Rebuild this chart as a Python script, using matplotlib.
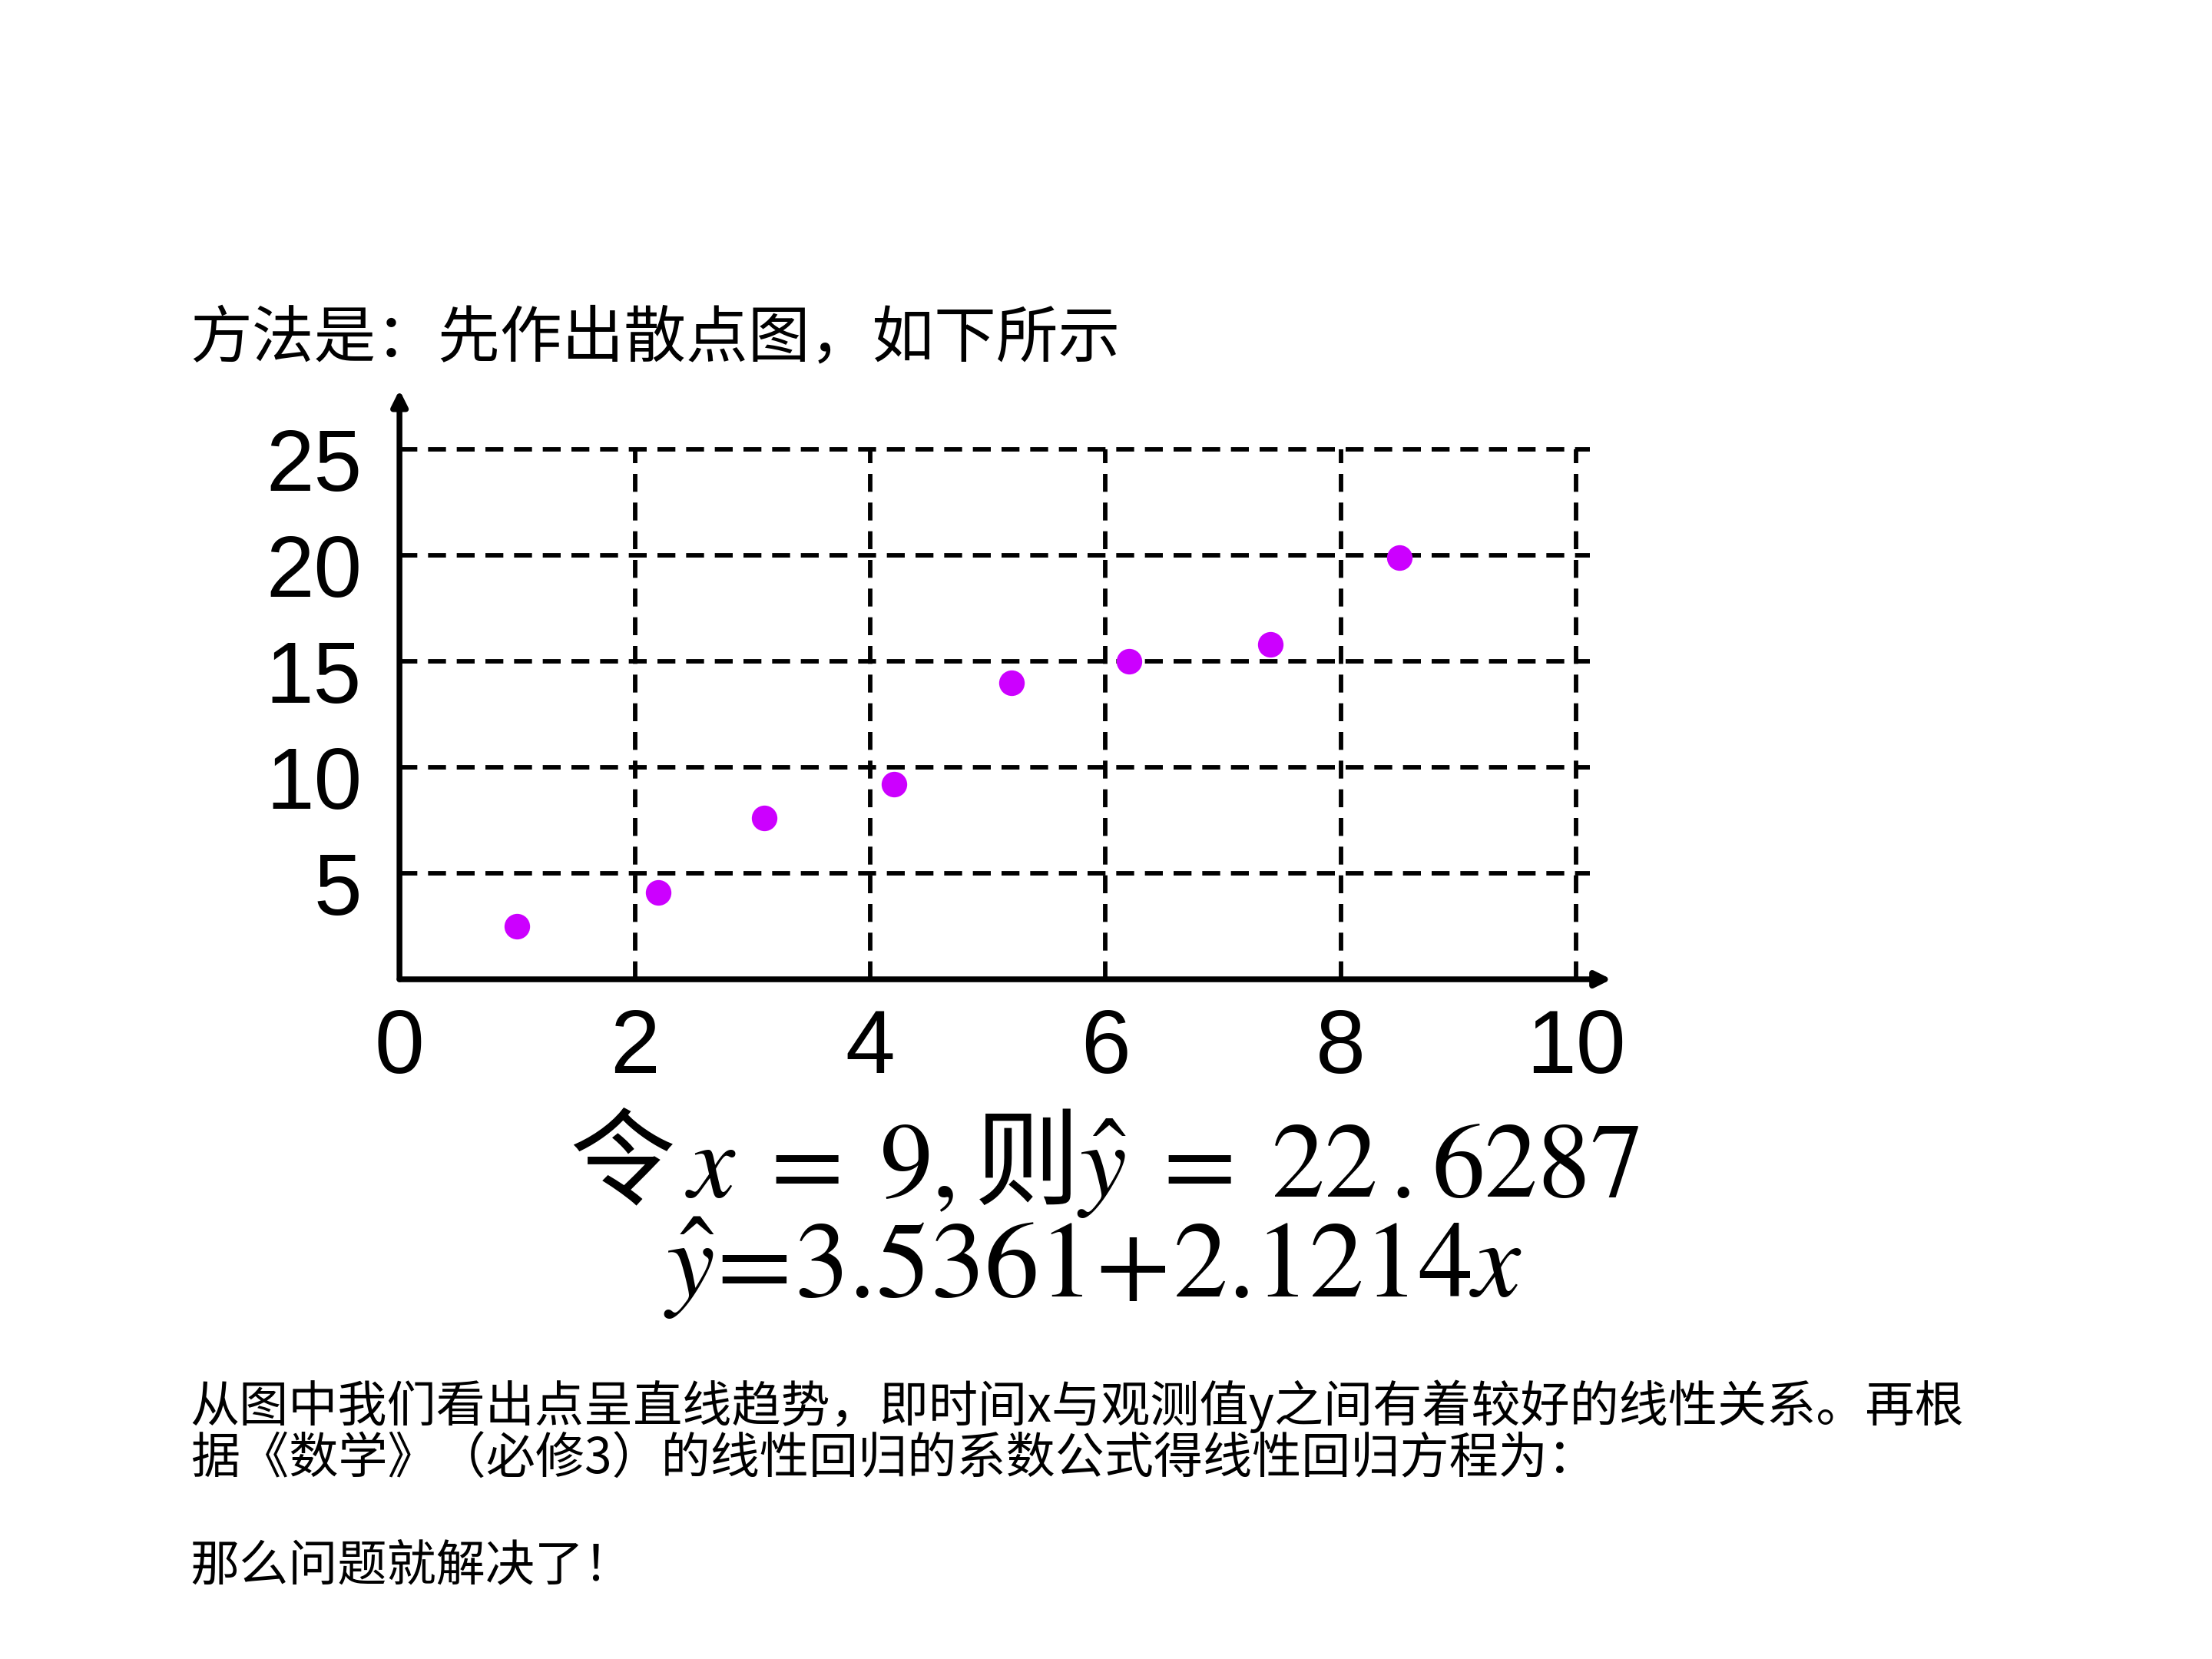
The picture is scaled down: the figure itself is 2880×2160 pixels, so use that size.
import matplotlib
matplotlib.use("Agg")
import matplotlib.pyplot as plt

plt.rcParams['font.family'] = ['Noto Sans CJK SC', 'DejaVu Sans']
plt.rcParams['mathtext.fontset'] = 'stix'

# 数据
x_vals = [1.0, 2.2, 3.1, 4.2, 5.2, 6.2, 7.4, 8.5]
y_vals = [2.5, 4.1, 7.6, 9.2, 14.0, 15.0, 15.8, 19.9]
x_ticks = [0, 2, 4, 6, 8, 10]
y_ticks = [5, 10, 15, 20, 25]

titulo = "方法是：先作出散点图，如下所示"
ecuacion_1 = r"令$\,x\;=\;9,$则$\hat{y}\;=\;22\,.6287$"
ecuacion_2 = r"$\hat{y}\!=\!3.5361\!+\!2.1214x$"
texto_1 = "从图中我们看出点呈直线趋势，即时间x与观测值y之间有着较好的线性关系。再根"
texto_2 = "据《数学》（必修3）的线性回归的系数公式得线性回归方程为："
texto_3 = "那么问题就解决了！"

fig = plt.figure(figsize=(9.6, 7.2), dpi=300)
ax = fig.add_axes([0.1806, 0.4097, 0.5585, 0.3642])
ax.set_xlim(0, 10.5)
ax.set_ylim(0, 28.5)
ax.axis('off')

dash = (0, (4, 2.4))
ax.hlines(y_ticks, 0, 10.12, colors='k', linestyles=dash, lw=1.4, clip_on=False)
ax.vlines(x_ticks[1:], 0, 25, colors='k', linestyles=dash, lw=1.4, clip_on=False)

# ejes con flechas
flecha = dict(arrowstyle='-|>', lw=1.8, color='k', mutation_scale=10, shrinkA=0, shrinkB=0)
ax.annotate('', xy=(10.3, 0), xytext=(0, 0), arrowprops=flecha, annotation_clip=False)
ax.annotate('', xy=(0, 27.8), xytext=(0, 0), arrowprops=flecha, annotation_clip=False)

ax.plot(x_vals, y_vals, 'o', color='#cc00ff', markersize=8, markeredgewidth=0, clip_on=False)

for v in y_ticks:
    ax.text(-0.32, v - 0.9, str(v), ha='right', va='center', fontsize=27,
            family='Liberation Sans')
for v in x_ticks:
    ax.text(v, -3.3, str(v), ha='center', va='center', fontsize=28,
            family='Liberation Sans')

fig.text(0.086, 0.796, titulo, fontsize=19.4, va='center', ha='left')
fig.text(0.4993, 0.2985, ecuacion_1, fontsize=33, ha='center', va='center')
fig.text(0.494, 0.2366, ecuacion_2, fontsize=34, ha='center', va='center')
fig.text(0.086, 0.152, texto_1, fontsize=15.4, va='center', ha='left')
fig.text(0.086, 0.120, texto_2, fontsize=15.4, va='center', ha='left')
fig.text(0.086, 0.056, texto_3, fontsize=15.4, va='center', ha='left')

fig.savefig("out.png", dpi=300, facecolor='white')
